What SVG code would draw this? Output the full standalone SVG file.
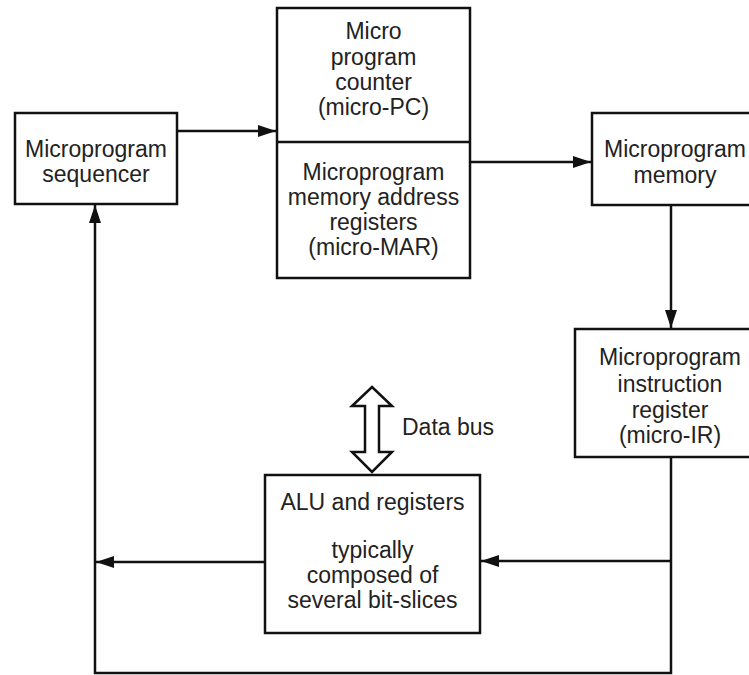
<svg xmlns="http://www.w3.org/2000/svg" width="749" height="675" viewBox="0 0 749 675">
<style>
.box{fill:#fff;stroke:#111;stroke-width:2.5}
.ln{fill:none;stroke:#111;stroke-width:2.5}
text{font-family:"Liberation Sans",Arial,sans-serif;font-size:23px;fill:#222;text-anchor:middle}
</style>
<defs>
<marker id="ah" viewBox="0 0 18 12" refX="18" refY="6" markerWidth="18" markerHeight="12" markerUnits="userSpaceOnUse" orient="auto">
<path d="M0,0 L18,6 L0,12 Z" fill="#111"/>
</marker>
</defs>
<rect width="749" height="675" fill="#fff"/>
<g id="connectors">
<line class="ln" x1="177" y1="131" x2="276" y2="131" marker-end="url(#ah)"/>
<line class="ln" x1="470" y1="162" x2="591" y2="162" marker-end="url(#ah)"/>
<line class="ln" x1="671" y1="205" x2="671" y2="328" marker-end="url(#ah)"/>
<polyline class="ln" points="671,457 671,673 95,673 95,205" marker-end="url(#ah)"/>
<line class="ln" x1="671" y1="561" x2="481" y2="561" marker-end="url(#ah)"/>
<line class="ln" x1="265" y1="562" x2="96" y2="562" marker-end="url(#ah)"/>
</g>
<g id="sequencer">
<rect class="box" x="15" y="113" width="162" height="91"/>
<text x="96" y="157">Microprogram</text>
<text x="96" y="182">sequencer</text>
</g>
<g id="micro-pc-mar">
<rect class="box" x="277" y="8" width="193" height="270"/>
<line class="ln" x1="277" y1="142" x2="470" y2="142"/>
<text x="373.5" y="39">Micro</text>
<text x="373.5" y="65">program</text>
<text x="373.5" y="90">counter</text>
<text x="373.5" y="115">(micro-PC)</text>
<text x="373.5" y="180">Microprogram</text>
<text x="373.5" y="205">memory address</text>
<text x="373.5" y="230">registers</text>
<text x="373.5" y="255">(micro-MAR)</text>
</g>
<g id="memory">
<rect class="box" x="592" y="113" width="166" height="92"/>
<text x="675" y="157">Microprogram</text>
<text x="675" y="183">memory</text>
</g>
<g id="micro-ir">
<rect class="box" x="575" y="329" width="190" height="128"/>
<text x="670" y="365">Microprogram</text>
<text x="670" y="392">instruction</text>
<text x="670" y="418">register</text>
<text x="670" y="443">(micro-IR)</text>
</g>
<g id="data-bus">
<path d="M372,387 L392,406 L379,406 L379,452 L392,452 L372,472 L352,452 L365,452 L365,406 L352,406 Z" fill="#fff" stroke="#111" stroke-width="2.5" stroke-linejoin="miter"/>
<text x="402" y="435" style="text-anchor:start">Data bus</text>
</g>
<g id="alu">
<rect class="box" x="265" y="475" width="215" height="158"/>
<text x="372.5" y="510">ALU and registers</text>
<text x="372.5" y="558">typically</text>
<text x="372.5" y="583">composed of</text>
<text x="372.5" y="608">several bit-slices</text>
</g>
</svg>
